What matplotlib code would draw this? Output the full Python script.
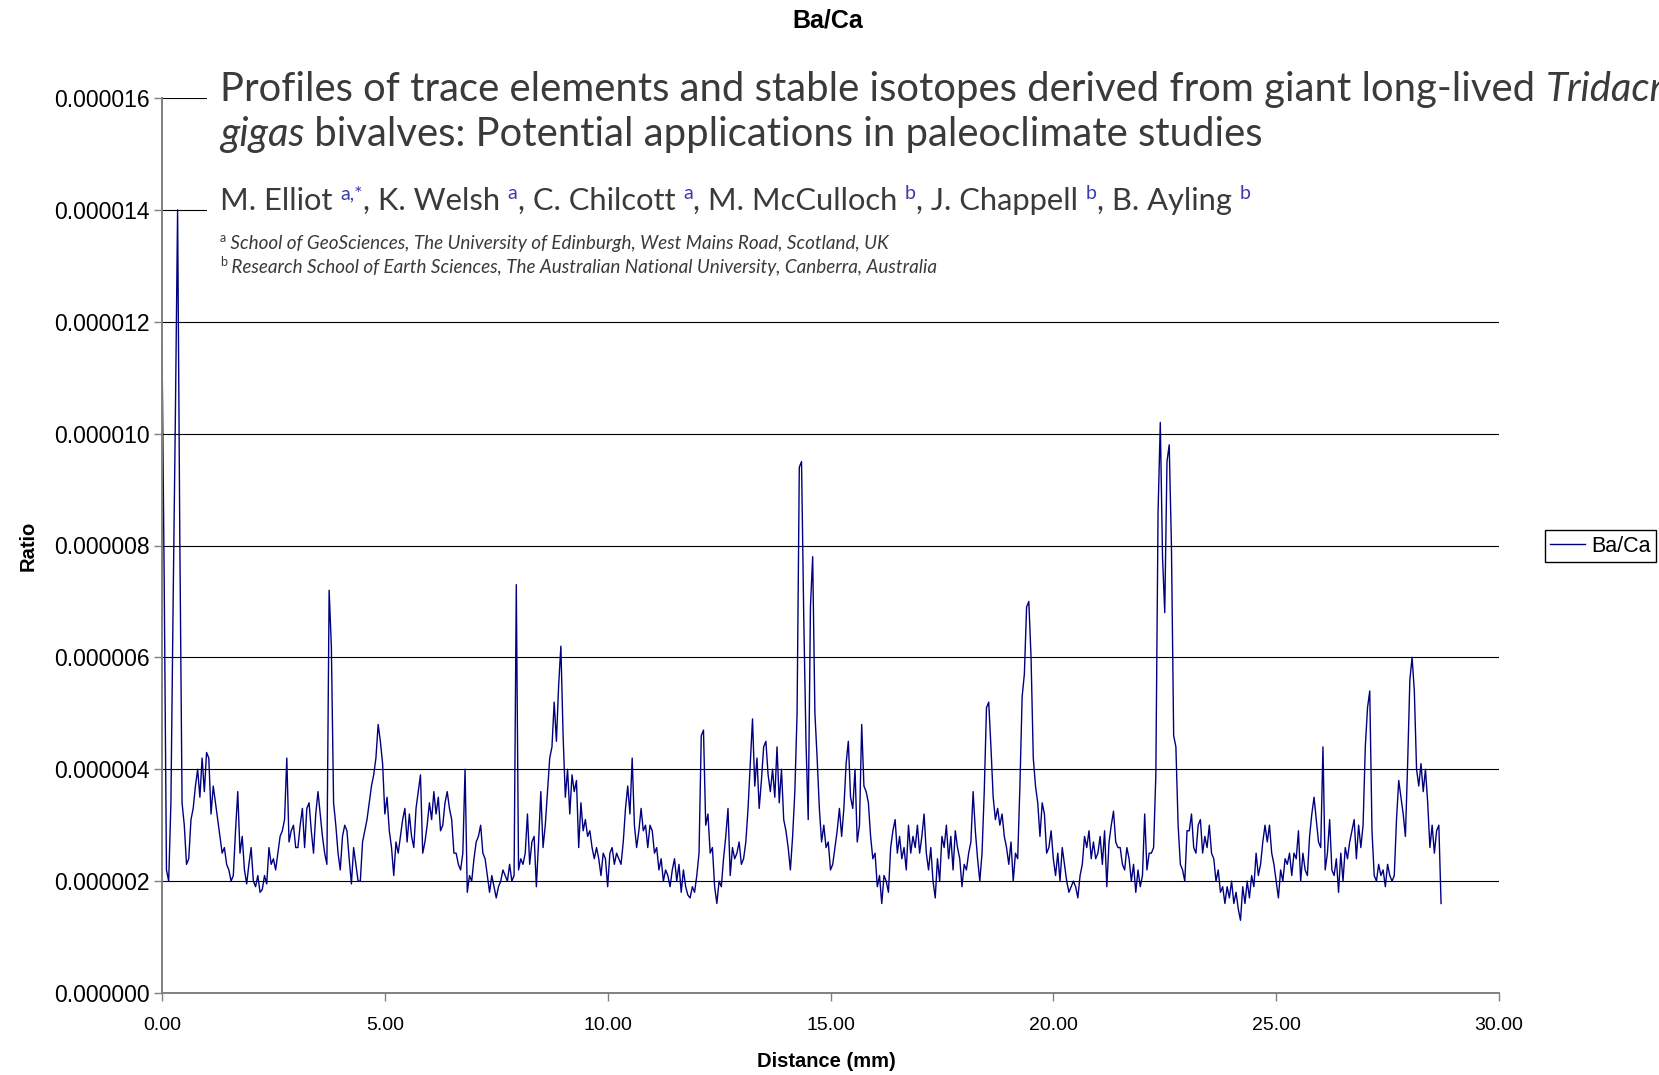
"""Ba/Ca profile along the shell, Excel-style line chart with the paper header pasted on top."""

import matplotlib
matplotlib.use("Agg")
import matplotlib.pyplot as plt
import numpy as np
from matplotlib.patches import Rectangle
from matplotlib.ticker import FormatStrFormatter, MultipleLocator
from matplotlib.transforms import IdentityTransform

# Ba/Ca ratio (x 1e-6), one reading every 0.05 mm, one row per mm
ba_ca_e6 = [
    11.6, 7.3, 2.2, 2.0, 3.4, 7.0, 10.3, 14.0, 8.1, 3.4, 3.0, 2.3, 2.4, 3.1, 3.3, 3.7, 4.0, 3.5, 4.2, 3.6,
    4.3, 4.2, 3.2, 3.7, 3.4, 3.1, 2.8, 2.5, 2.6, 2.3, 2.2, 2.0, 2.1, 2.9, 3.6, 2.5, 2.8, 2.2, 1.95, 2.3,
    2.6, 2.0, 1.9, 2.1, 1.8, 1.85, 2.1, 1.95, 2.6, 2.3, 2.4, 2.2, 2.5, 2.8, 2.9, 3.1, 4.2, 2.7, 2.9, 3.0,
    2.6, 2.6, 3.0, 3.3, 2.6, 3.3, 3.4, 2.9, 2.5, 3.2, 3.6, 3.2, 2.8, 2.5, 2.3, 7.2, 6.2, 3.4, 3.0, 2.5,
    2.2, 2.8, 3.0, 2.9, 2.4, 1.95, 2.6, 2.3, 2.0, 2.0, 2.7, 2.9, 3.1, 3.4, 3.7, 3.9, 4.2, 4.8, 4.5, 4.1,
    3.2, 3.5, 2.9, 2.6, 2.1, 2.7, 2.5, 2.8, 3.1, 3.3, 2.7, 3.2, 2.8, 2.6, 3.3, 3.6, 3.9, 2.5, 2.7, 3.0,
    3.4, 3.1, 3.6, 3.2, 3.5, 2.9, 3.0, 3.4, 3.6, 3.3, 3.1, 2.5, 2.5, 2.3, 2.2, 2.5, 4.0, 1.8, 2.1, 2.0,
    2.4, 2.7, 2.8, 3.0, 2.5, 2.4, 2.1, 1.8, 2.1, 1.9, 1.7, 1.9, 2.0, 2.2, 2.1, 2.0, 2.3, 2.0, 2.1, 7.3,
    2.2, 2.4, 2.3, 2.5, 3.2, 2.3, 2.7, 2.8, 1.9, 2.7, 3.6, 2.6, 3.0, 3.6, 4.2, 4.4, 5.2, 4.5, 5.5, 6.2,
    4.6, 3.5, 4.0, 3.2, 3.9, 3.6, 3.8, 2.6, 3.4, 2.9, 3.1, 2.8, 2.9, 2.6, 2.4, 2.6, 2.4, 2.1, 2.5, 2.4,
    1.9, 2.5, 2.6, 2.3, 2.5, 2.4, 2.3, 2.7, 3.3, 3.7, 3.2, 4.2, 3.0, 2.6, 2.9, 3.3, 2.9, 3.0, 2.6, 3.0,
    2.9, 2.5, 2.6, 2.2, 2.4, 2.0, 2.2, 2.1, 1.9, 2.2, 2.4, 2.0, 2.3, 1.8, 2.2, 1.9, 1.75, 1.7, 1.9, 1.8,
    2.1, 2.5, 4.6, 4.7, 3.0, 3.2, 2.5, 2.6, 1.9, 1.6, 2.0, 1.9, 2.4, 2.8, 3.3, 2.1, 2.6, 2.4, 2.5, 2.7,
    2.3, 2.4, 2.7, 3.3, 4.1, 4.9, 3.7, 4.2, 3.3, 3.8, 4.4, 4.5, 3.9, 3.6, 4.0, 3.5, 4.4, 3.4, 4.0, 3.1,
    2.9, 2.6, 2.2, 2.8, 3.6, 5.0, 9.4, 9.5, 6.7, 4.5, 3.1, 6.9, 7.8, 5.0, 4.2, 3.3, 2.7, 3.0, 2.6, 2.7,
    2.2, 2.3, 2.6, 2.9, 3.3, 2.8, 3.3, 4.1, 4.5, 3.5, 3.3, 4.0, 2.7, 3.0, 4.8, 3.7, 3.6, 3.4, 2.8, 2.4,
    2.5, 1.9, 2.1, 1.6, 2.1, 2.0, 1.8, 2.6, 2.9, 3.1, 2.5, 2.8, 2.4, 2.6, 2.2, 3.0, 2.5, 2.8, 2.6, 3.0,
    2.5, 2.8, 3.2, 2.5, 2.2, 2.6, 2.0, 1.7, 2.4, 2.0, 2.8, 2.6, 3.0, 2.4, 2.8, 2.2, 2.9, 2.6, 2.4, 1.9,
    2.3, 2.2, 2.5, 2.7, 3.6, 2.9, 2.4, 2.0, 2.5, 3.6, 5.1, 5.2, 4.4, 3.5, 3.1, 3.3, 3.0, 3.2, 2.8, 2.6,
    2.3, 2.7, 2.0, 2.5, 2.4, 3.7, 5.3, 5.7, 6.9, 7.0, 6.0, 4.2, 3.7, 3.4, 2.8, 3.4, 3.2, 2.5, 2.6, 2.9,
    2.4, 2.1, 2.5, 2.0, 2.6, 2.3, 2.0, 1.8, 1.9, 2.0, 1.9, 1.7, 2.1, 2.3, 2.8, 2.6, 2.9, 2.4, 2.7, 2.4,
    2.5, 2.8, 2.3, 2.9, 1.9, 2.7, 3.0, 3.25, 2.7, 2.6, 2.6, 2.3, 2.2, 2.6, 2.4, 2.0, 2.3, 1.8, 2.2, 1.9,
    2.1, 3.2, 2.2, 2.5, 2.5, 2.6, 3.9, 8.6, 10.2, 7.8, 6.8, 9.5, 9.8, 8.0, 4.6, 4.4, 3.0, 2.3, 2.2, 2.0,
    2.9, 2.9, 3.2, 2.6, 2.5, 3.0, 3.1, 2.5, 2.8, 2.6, 3.0, 2.5, 2.4, 2.0, 2.2, 1.8, 1.9, 1.6, 1.9, 1.7,
    2.0, 1.6, 1.8, 1.5, 1.3, 1.9, 1.6, 2.0, 1.7, 2.1, 1.9, 2.5, 2.1, 2.3, 2.7, 3.0, 2.7, 3.0, 2.5, 2.3,
    2.0, 1.7, 2.2, 2.0, 2.4, 2.3, 2.5, 2.1, 2.5, 2.4, 2.9, 2.0, 2.5, 2.2, 2.1, 2.8, 3.2, 3.5, 3.1, 2.7,
    2.6, 4.4, 2.2, 2.5, 3.1, 2.2, 2.1, 2.4, 1.8, 2.5, 2.0, 2.6, 2.4, 2.7, 2.9, 3.1, 2.4, 3.0, 2.6, 3.0,
    4.4, 5.1, 5.4, 2.9, 2.1, 2.0, 2.3, 2.1, 2.2, 1.9, 2.3, 2.1, 2.0, 2.1, 3.1, 3.8, 3.5, 3.2, 2.8, 4.1,
    5.6, 6.0, 5.4, 4.0, 3.7, 4.1, 3.6, 4.0, 3.4, 2.6, 3.0, 2.5, 2.9, 3.0, 1.6,
]
DIST_STEP = 0.05  # mm between readings

series_name = "Ba/Ca"
x_label = "Distance (mm)"
y_label = "Ratio"

# header of the paper pasted over the chart (it runs off the right edge, as in the source)
header_line1 = [("Profiles of trace elements and stable isotopes derived from giant long-lived ", "normal"),
                ("Tridacna", "italic")]
header_line2 = [("gigas", "italic"), (" bivalves: Potential applications in paleoclimate studies", "normal")]
authors = [("M. Elliot ", "a,*"), (", K. Welsh ", "a"), (", C. Chilcott ", "a"), (", M. McCulloch ", "b"),
           (", J. Chappell ", "b"), (", B. Ayling ", "b")]
affiliations = [("a", " School of GeoSciences, The University of Edinburgh, West Mains Road, Scotland, UK"),
                ("b", " Research School of Earth Sciences, The Australian National University, Canberra, Australia")]

W, H = 1659, 1075
LINE_COLOR = "#000080"
HEAD_FONT = "Lato"
HEAD_COLOR = "#3a3a3a"
SUP_COLOR = "#3b3bab"

plt.rcParams["font.family"] = ["Liberation Sans", "DejaVu Sans"]

ratio = np.array(ba_ca_e6) * 1e-6
distance = np.arange(len(ratio)) * DIST_STEP

fig = plt.figure(figsize=(W / 100, H / 100), dpi=100)
ax = fig.add_axes([162 / W, 1 - 993 / H, (1499 - 162) / W, (993 - 98) / H])

line, = ax.plot(distance, ratio, color=LINE_COLOR, lw=1.0, label=series_name)

ax.set_xlim(0, 30)
ax.set_ylim(0, 0.000016)
ax.xaxis.set_major_locator(MultipleLocator(5))
ax.yaxis.set_major_locator(MultipleLocator(0.000002))
ax.xaxis.set_major_formatter(FormatStrFormatter("%.2f"))
ax.yaxis.set_major_formatter(FormatStrFormatter("%.6f"))
ax.grid(axis="y", color="black", lw=0.8)
ax.set_axisbelow(True)

for side in ("top", "right"):
    ax.spines[side].set_visible(False)
for side in ("left", "bottom"):
    ax.spines[side].set_color("#808080")
    ax.spines[side].set_linewidth(1.4)
ax.tick_params(axis="both", direction="out", length=6, width=1, color="#808080")
ax.tick_params(axis="y", labelsize=16.5, pad=3)
ax.tick_params(axis="x", labelsize=14, pad=11)

ax.set_xlabel(x_label, fontsize=14.5, fontweight="bold")
ax.set_ylabel(y_label, fontsize=14.5, fontweight="bold")
ax.xaxis.set_label_coords(0.497, -0.066)
ax.yaxis.set_label_coords(-0.0927, 0.5)

fig.text(828 / W, 1 - 21 / H, series_name, ha="center", va="center", fontsize=18, fontweight="bold")

ax.legend(handles=[line], loc="center left", bbox_to_anchor=(1545 / W, 1 - 546 / H),
          bbox_transform=fig.transFigure, fontsize=15.5, frameon=True, fancybox=False,
          edgecolor="black", framealpha=1, borderpad=0.25, handlelength=1.6, handletextpad=0.3,
          borderaxespad=0)

# white box of the pasted header image, hides the upper gridlines
fig.patches.append(Rectangle((207, H - 288), W - 207, 235, transform=IdentityTransform(),
                             facecolor="white", edgecolor="none", zorder=5))

renderer = fig.canvas.get_renderer()


def put_runs(x, y, runs):
    # runs: (text, size, style, color, rise) drawn one after another on a baseline
    for txt, size, style, color, rise in runs:
        t = fig.text(x, H - y + rise, txt, transform=IdentityTransform(), ha="left", va="baseline",
                     fontsize=size, fontstyle=style, color=color, family=HEAD_FONT, zorder=6)
        x = t.get_window_extent(renderer).x1


put_runs(220, 101, [(txt, 28.8, st, HEAD_COLOR, 0) for txt, st in header_line1])
put_runs(220, 146, [(txt, 28.8, st, HEAD_COLOR, 0) for txt, st in header_line2])

author_runs = []
for name, mark in authors:
    author_runs.append((name, 22.2, "normal", HEAD_COLOR, 0))
    author_runs.append((mark, 14, "normal", SUP_COLOR, 11))
put_runs(220, 210, author_runs)

for (mark, text), base in zip(affiliations, (249, 273)):
    put_runs(220, base, [(mark, 9, "normal", HEAD_COLOR, 7), (text, 13.6, "italic", HEAD_COLOR, 0)])

fig.savefig("out.png", dpi=100)
